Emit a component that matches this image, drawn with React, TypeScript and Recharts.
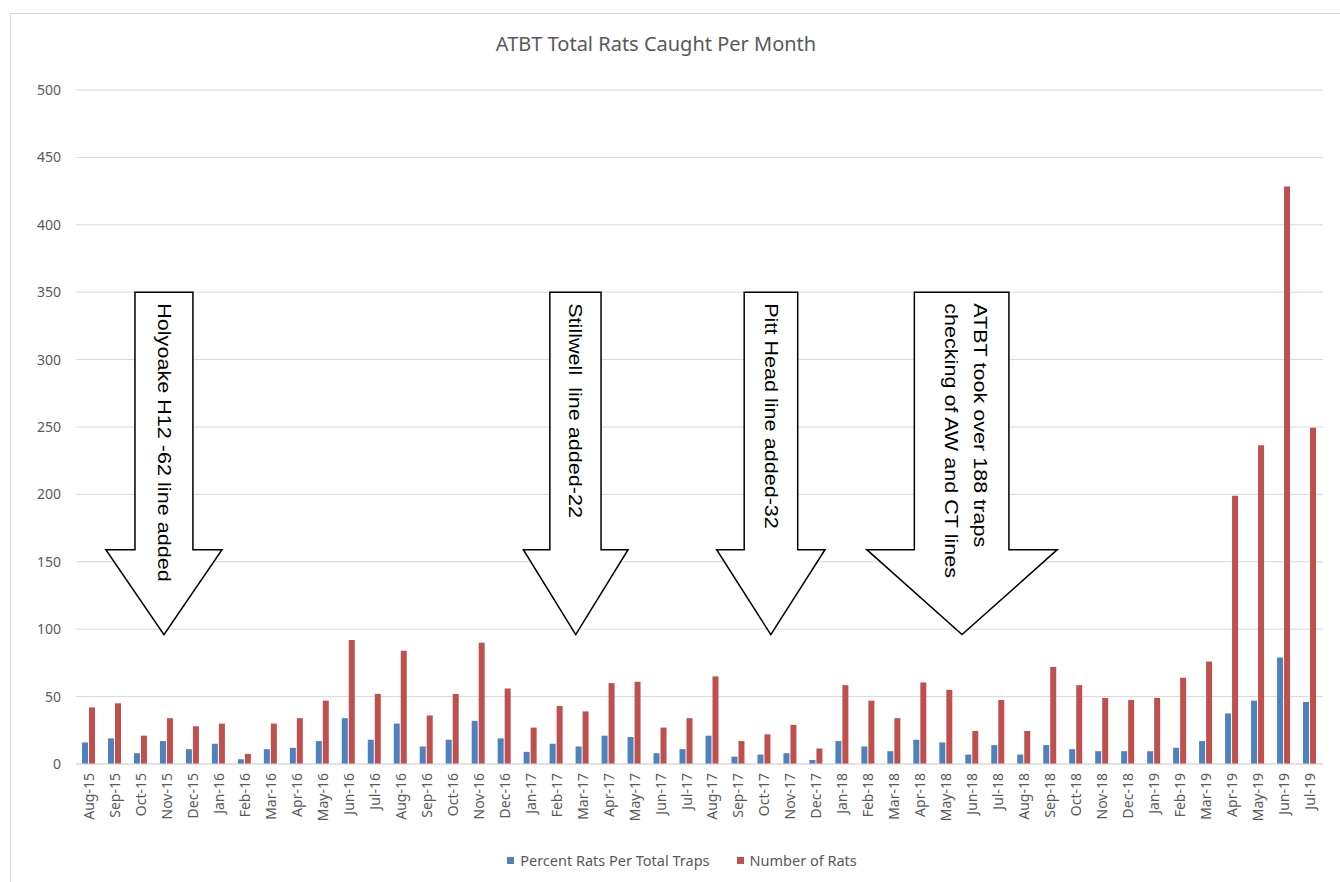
import { Bar, BarChart, CartesianGrid, Legend, ReferenceArea, XAxis, YAxis } from "recharts"

const months = [
  "Aug-15", "Sep-15", "Oct-15", "Nov-15", "Dec-15", "Jan-16", "Feb-16", "Mar-16", "Apr-16", "May-16", "Jun-16", "Jul-16",
  "Aug-16", "Sep-16", "Oct-16", "Nov-16", "Dec-16", "Jan-17", "Feb-17", "Mar-17", "Apr-17", "May-17", "Jun-17", "Jul-17",
  "Aug-17", "Sep-17", "Oct-17", "Nov-17", "Dec-17", "Jan-18", "Feb-18", "Mar-18", "Apr-18", "May-18", "Jun-18", "Jul-18",
  "Aug-18", "Sep-18", "Oct-18", "Nov-18", "Dec-18", "Jan-19", "Feb-19", "Mar-19", "Apr-19", "May-19", "Jun-19", "Jul-19",
]

const percentRats = [
  16, 19, 8, 17, 11, 15, 3.5, 11, 12, 17, 34, 18,
  30, 13, 18, 32, 19, 9, 15, 13, 21, 20, 8, 11,
  21, 5.5, 7, 8, 3, 17, 13, 9.5, 18, 16, 7, 14,
  7, 14, 11, 9.5, 9.5, 9.5, 12, 17, 37.5, 47, 79, 46,
]

const numberOfRats = [
  42, 45, 21, 34, 28, 30, 7.5, 30, 34, 47, 92, 52,
  84, 36, 52, 90, 56, 27, 43, 39, 60, 61, 27, 34,
  65, 17, 22, 29, 11.5, 58.5, 47, 34, 60.5, 55, 24.5, 47.5,
  24.5, 72, 58.5, 49, 47.5, 49, 64, 76, 199, 236.5, 428.5, 249.5,
]

const seriesNames = ["Percent Rats Per Total Traps", "Number of Rats"]

const yTicks = [0, 50, 100, 150, 200, 250, 300, 350, 400, 450, 500]

// annotation arrows, in month-slot units along x and rat counts along y
const arrowTop = 350
const arrowShoulder = 159
const arrowTip = 96
const arrows = [
  { headLeft: 1.15, headRight: 5.62, bodyLeft: 2.27, bodyRight: 4.5, lines: ["Holyoake H12 -62 line added"] },
  { headLeft: 17.22, headRight: 21.25, bodyLeft: 18.24, bodyRight: 20.21, lines: ["Stillwell  line added-22"] },
  { headLeft: 24.66, headRight: 28.83, bodyLeft: 25.72, bodyRight: 27.78, lines: ["Pitt Head line added-32"] },
  {
    headLeft: 30.44,
    headRight: 37.77,
    bodyLeft: 32.27,
    bodyRight: 35.91,
    lines: ["ATBT took over 188 traps", "checking of AW and CT lines"],
  },
]

const data = months.map((m, i) => ({
  month: m,
  slot: i + 0.5,
  percent: percentRats[i],
  count: numberOfRats[i],
}))

const FONT = "'Noto Sans', sans-serif"
const GREY = "#595959"

const MonthTick = ({ x, y, payload }: any) => (
  <text
    x={0}
    y={0}
    transform={`translate(${x + 5},${y + 9}) rotate(-90)`}
    textAnchor="end"
    fontSize={14}
    fontFamily={FONT}
    fill={GREY}
  >
    {payload.value}
  </text>
)

const ArrowShape = ({ x, y, width, height, spec }: any) => {
  const span = spec.headRight - spec.headLeft
  const bl = x + ((spec.bodyLeft - spec.headLeft) / span) * width
  const br = x + ((spec.bodyRight - spec.headLeft) / span) * width
  const sh = y + ((arrowTop - arrowShoulder) / (arrowTop - arrowTip)) * height
  const tipX = x + width / 2
  const tipY = y + height
  const pts = [
    [bl, y],
    [br, y],
    [br, sh],
    [x + width, sh],
    [tipX, tipY],
    [x, sh],
    [bl, sh],
  ]
    .map((p) => p.join(","))
    .join(" ")
  const cx = (bl + br) / 2
  const offsets = spec.lines.length === 1 ? [-6] : [12, -17]
  return (
    <g>
      <polygon points={pts} fill="#ffffff" stroke="#000000" strokeWidth={1.5} strokeLinejoin="miter" />
      {spec.lines.map((line: string, i: number) => (
        <text
          key={i}
          x={0}
          y={0}
          transform={`translate(${cx + offsets[i]},${y + 11}) rotate(90) scale(1.2,1)`}
          fontSize={18}
          fontFamily="'Liberation Sans', Arial, sans-serif"
          fill="#000000"
          style={{ whiteSpace: "pre" }}
        >
          {line}
        </text>
      ))}
    </g>
  )
}

const LegendContent = ({ payload }: any) => {
  const items = [...(payload || [])].sort(
    (a: any, b: any) => seriesNames.indexOf(a.value) - seriesNames.indexOf(b.value)
  )
  return (
    <div
      style={{
        height: 22,
        display: "flex",
        justifyContent: "center",
        alignItems: "center",
        fontFamily: FONT,
        fontSize: 14.5,
        color: GREY,
        paddingLeft: 41,
      }}
    >
      {items.map((item: any, i: number) => (
        <span key={i} style={{ display: "flex", alignItems: "center", marginRight: i === 0 ? 27 : 0 }}>
          <span style={{ width: 7, height: 7, background: item.color, marginRight: 6, display: "inline-block" }} />
          {item.value}
        </span>
      ))}
    </div>
  )
}

export default function App() {
  return (
    <div style={{ position: "absolute", left: 0, top: 0, width: 1340, height: 882, overflow: "hidden", background: "#fff" }}>
      <div
        style={{
          position: "absolute",
          left: 10,
          top: 13,
          width: 1400,
          height: 900,
          border: "1px solid #d9d9d9",
        }}
      />
      <div
        style={{
          position: "absolute",
          left: 0,
          top: 34,
          width: 1312,
          textAlign: "center",
          fontFamily: FONT,
          fontSize: 20,
          lineHeight: "20px",
          color: GREY,
        }}
      >
        ATBT Total Rats Caught Per Month
      </div>
      <div style={{ position: "absolute", left: 0, top: 0 }}>
        <BarChart
          width={1340}
          height={882}
          data={data}
          margin={{ top: 90, right: 17, left: 0, bottom: 11 }}
          barGap={1}
        >
          <CartesianGrid stroke="#d9d9d9" vertical={false} />
          <XAxis
            dataKey="month"
            interval={0}
            height={85}
            tickLine={false}
            tickSize={0}
            tickMargin={0}
            axisLine={{ stroke: "#d9d9d9" }}
            tick={<MonthTick />}
          />
          <XAxis xAxisId="slot" dataKey="slot" type="number" domain={[0, 48]} allowDataOverflow hide />
          <YAxis
            width={76}
            domain={[0, 500]}
            ticks={yTicks}
            axisLine={false}
            tickLine={false}
            tickSize={0}
            tickMargin={15}
            tick={{ fontSize: 14, fontFamily: FONT, fill: GREY }}
          />
          <Legend verticalAlign="bottom" content={<LegendContent />} />
          <Bar dataKey="percent" name={seriesNames[0]} fill="#4F81BD" barSize={6} isAnimationActive={false} />
          <Bar dataKey="count" name={seriesNames[1]} fill="#C0504D" barSize={6} isAnimationActive={false} />
          {arrows.map((a, i) => (
            <ReferenceArea
              key={i}
              xAxisId="slot"
              x1={a.headLeft}
              x2={a.headRight}
              y1={arrowTip}
              y2={arrowTop}
              shape={(p: any) => <ArrowShape {...p} spec={a} />}
            />
          ))}
        </BarChart>
      </div>
    </div>
  )
}
